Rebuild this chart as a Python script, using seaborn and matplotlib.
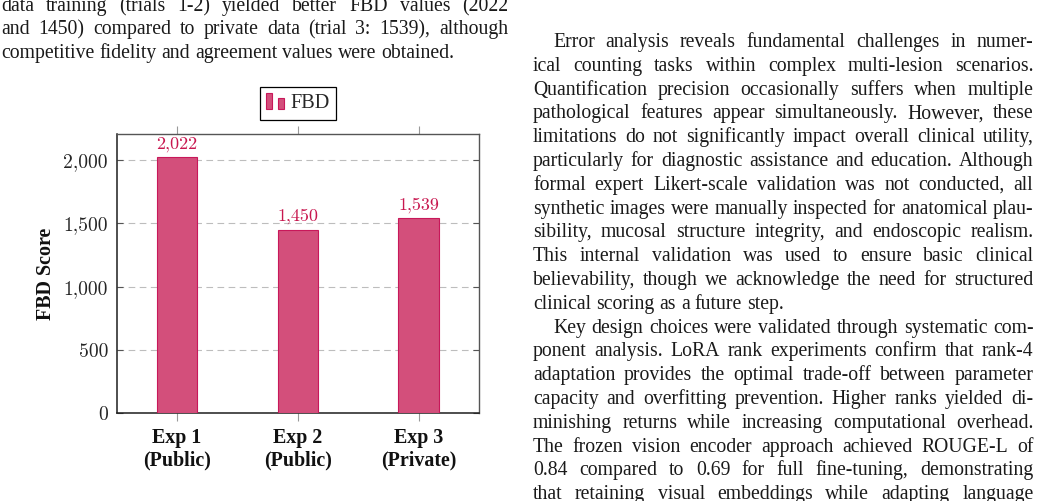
import matplotlib
matplotlib.use("Agg")
import matplotlib.pyplot as plt
import seaborn as sns
import pandas as pd
from matplotlib.patches import Rectangle
from matplotlib.legend_handler import HandlerBase
from matplotlib.ticker import FuncFormatter, FixedLocator

# ---------------- data ----------------
categories = ["Exp 1\n(Public)", "Exp 2\n(Public)", "Exp 3\n(Private)"]
fbd_scores = [2022, 1450, 1539]
y_ticks = [0, 500, 1000, 1500, 2000]
series_name = "FBD"
y_label = "FBD Score"

left_par_lines = [
    "data training (trials 1-2) yielded better FBD values (2022",
    "and 1450) compared to private data (trial 3: 1539), although",
    "competitive fidelity and agreement values were obtained.",
]
right_par1_lines = [
    "Error analysis reveals fundamental challenges in numer-",
    "ical counting tasks within complex multi-lesion scenarios.",
    "Quantification precision occasionally suffers when multiple",
    "pathological features appear simultaneously. However, these",
    "limitations do not significantly impact overall clinical utility,",
    "particularly for diagnostic assistance and education. Although",
    "formal expert Likert-scale validation was not conducted, all",
    "synthetic images were manually inspected for anatomical plau-",
    "sibility, mucosal structure integrity, and endoscopic realism.",
    "This internal validation was used to ensure basic clinical",
    "believability, though we acknowledge the need for structured",
    "clinical scoring as a future step.",
]
right_par2_lines = [
    "Key design choices were validated through systematic com-",
    "ponent analysis. LoRA rank experiments confirm that rank-4",
    "adaptation provides the optimal trade-off between parameter",
    "capacity and overfitting prevention. Higher ranks yielded di-",
    "minishing returns while increasing computational overhead.",
    "The frozen vision encoder approach achieved ROUGE-L of",
    "0.84 compared to 0.69 for full fine-tuning, demonstrating",
    "that retaining visual embeddings while adapting language",
]

# ---------------- styles ----------------
W, H = 1043, 501
BAR_FILL = "#D34F7B"
BAR_EDGE = "#C8185A"
LABEL_COL = "#C8174F"
SERIF = ["Liberation Serif", "DejaVu Serif"]
CM = ["cmr10", "DejaVu Serif"]
BODY_FS = 14.2
TEXT_COL = "#1a1a1a"

sns.set_style("white")
plt.rcParams["axes.formatter.use_mathtext"] = True
plt.rcParams["font.family"] = SERIF

fig = plt.figure(figsize=(W / 100, H / 100), dpi=100)
fig.patch.set_facecolor("white")

# axes placement (pixel based)
ax_l, ax_r, ax_t, ax_b = 116.7, 479.0, 134.3, 413.3
ax = fig.add_axes([ax_l / W, 1 - ax_b / H, (ax_r - ax_l) / W, (ax_b - ax_t) / H])

df = pd.DataFrame({"exp": categories, "score": fbd_scores})
sns.barplot(data=df, x="exp", y="score", ax=ax, color=BAR_FILL, width=0.336,
            edgecolor=BAR_EDGE, linewidth=0.8, saturation=1, zorder=3)
for p in ax.patches:
    p.set_facecolor(BAR_FILL)

ax.set_xlim(-0.5, 2.5)
ax.set_ylim(0, 2204)

# bar labels
ax.bar_label(ax.containers[0], labels=[f"{v:,}" for v in fbd_scores],
             padding=3.8, color=LABEL_COL, fontsize=13.0, family=CM)

# y axis
ax.yaxis.set_major_locator(FixedLocator(y_ticks))
ax.yaxis.set_major_formatter(FuncFormatter(lambda v, p: f"{int(v):,}"))
ax.tick_params(axis="y", which="major", direction="in", left=True, right=True,
               length=4.5, width=0.8, color="#555555", pad=6.3,
               labelsize=14.2, labelcolor="#262626")
for lab in ax.get_yticklabels():
    lab.set_family(CM)
ax.yaxis.grid(True, linestyle=(0, (6, 4)), color="#BDBDBD", linewidth=0.8, zorder=0)
ax.xaxis.grid(False)
ax.set_axisbelow(True)

# x axis
ax.set_xticks(range(len(categories)))
ax.set_xticklabels(categories, fontweight="bold", fontsize=14.4,
                   family=SERIF, linespacing=1.15, color="#111111")
ax.tick_params(axis="x", which="major", direction="out", bottom=True, top=True,
               length=5.8, width=0.8, color="#999999", pad=5.0)
ax.set_xlabel("")

ax.set_ylabel(y_label, fontweight="bold", fontsize=14.4, family=SERIF, color="#111111")
ax.yaxis.set_label_coords(-0.168, 0.5)

for side in ["left", "bottom"]:
    ax.spines[side].set_color("#1e1e1e")
    ax.spines[side].set_linewidth(1.1)
for side in ["top", "right"]:
    ax.spines[side].set_color("#555555")
    ax.spines[side].set_linewidth(1.0)
    ax.spines[side].set_visible(True)


# legend with pgfplots-style two-bar glyph
class TwoBarHandler(HandlerBase):
    def create_artists(self, legend, orig_handle, xdescent, ydescent, width,
                       height, fontsize, trans):
        bw = width * 0.34
        r1 = Rectangle((-xdescent, -ydescent), bw, height, facecolor=BAR_FILL,
                       edgecolor=BAR_EDGE, linewidth=0.8, transform=trans)
        r2 = Rectangle((-xdescent + width - bw, -ydescent), bw, height * 0.72,
                       facecolor=BAR_FILL, edgecolor=BAR_EDGE, linewidth=0.8,
                       transform=trans)
        return [r1, r2]


proxy = Rectangle((0, 0), 1, 1, facecolor=BAR_FILL, edgecolor=BAR_EDGE)
leg = ax.legend([proxy], [series_name], handler_map={proxy: TwoBarHandler()},
                loc="lower center", bbox_to_anchor=(0.5, 1.0513),
                borderaxespad=0, frameon=True, fancybox=False, framealpha=1,
                edgecolor="black", prop={"family": SERIF, "size": 14.6},
                handlelength=0.88, handleheight=0.8, handletextpad=0.3,
                borderpad=0.33)
leg.get_frame().set_linewidth(0.9)

# ---------------- surrounding page text (justified) ----------------
renderer = fig.canvas.get_renderer()
txt_kw = dict(fontsize=BODY_FS, family=SERIF, color=TEXT_COL, va="baseline", ha="left")


def width_of(s):
    t = fig.text(0, 0, s, **txt_kw)
    w = t.get_window_extent(renderer).width
    t.remove()
    return w


space_w = width_of("a a") - width_of("aa")


def put_line(line, x0, x1, y, justify):
    words = line.split(" ")
    widths = [width_of(w) for w in words]
    if justify and len(words) > 1:
        gap = (x1 - x0 - sum(widths)) / (len(words) - 1)
    else:
        gap = space_w
    x = x0
    for w, wd in zip(words, widths):
        fig.text(x / W, 1 - y / H, w, **txt_kw)
        x += wd + gap


def put_paragraph(lines, x0, x1, y0, step, indent, last_full):
    for i, line in enumerate(lines):
        xs = x0 + (indent if i == 0 else 0)
        is_last = i == len(lines) - 1
        put_line(line, xs, x1, y0 + i * step, justify=(not is_last) or last_full)


# left column (end of a paragraph)
put_paragraph(left_par_lines, 1.0, 508.0, 11.0, 23.4, 0, last_full=False)
# right column
STEP = 23.8
RX0, RX1 = 533.0, 1033.5
put_paragraph(right_par1_lines, RX0, RX1, 47.0, STEP, 20.0, last_full=False)
y2 = 47.0 + len(right_par1_lines) * STEP
put_paragraph(right_par2_lines, RX0, RX1, y2, STEP, 20.0, last_full=True)

fig.savefig("out.png", dpi=100)
